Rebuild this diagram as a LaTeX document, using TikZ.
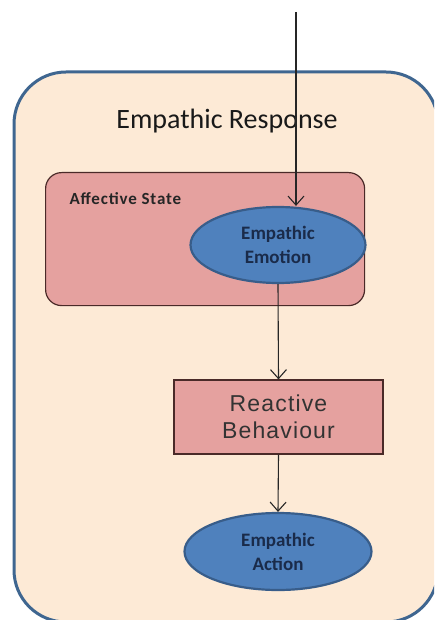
\documentclass[tikz,border=0pt]{standalone}
\usepackage{fontspec}
\setmainfont{Carlito}
\newfontfamily\arialfont[LetterSpace=5]{Liberation Sans}
\newfontfamily\spacedfont[LetterSpace=5]{Carlito}
\usetikzlibrary{arrows.meta,shapes.geometric}
\definecolor{outerfill}{HTML}{FDEAD6}
\definecolor{outerline}{HTML}{3F6690}
\definecolor{pinkfill}{HTML}{E5A19F}
\definecolor{pinkline}{HTML}{4A2A28}
\definecolor{ellfill}{HTML}{4F81BD}
\definecolor{ellline}{HTML}{385D8A}
\definecolor{elltext}{HTML}{1A2B4A}
\tikzset{
  conn/.style={draw=black!85, line width=1.1pt, -{Straight Barb[length=9pt,width=16pt,line width=1.1pt]}},
  blueell/.style={ellipse, draw=ellline, line width=2.2pt, fill=ellfill, inner sep=0pt,
    text=elltext, font=\fontsize{19}{24}\selectfont\bfseries, align=center},
  pinkbox/.style={draw=pinkline, line width=1.2pt, fill=pinkfill},
}
\begin{document}
\begin{tikzpicture}[x=1pt,y=-1pt]
\useasboundingbox (0,0) rectangle (434,620);
\begin{scope}
\clip (0,0) rectangle (434,620);
\draw[draw=outerline, line width=3pt, fill=outerfill, rounded corners=52pt]
  (14,72) rectangle (438,622);
\end{scope}
\node[font=\fontsize{28}{32}\selectfont, text=black!90] (title) at (227,121) {Empathic Response};
\node[pinkbox, rounded corners=16pt, minimum width=319pt, minimum height=133pt, anchor=north west] (aff) at (45,172) {};
\node[anchor=west, font=\spacedfont\fontsize{17}{20}\selectfont\bfseries, text=black!85] (afftext) at (66,199) {Affective State};
\node[blueell, minimum width=175pt, minimum height=76pt] (emo) at (278,245) {Empathic\\Emotion};
\node[pinkbox, minimum width=209pt, minimum height=74pt, font=\arialfont\fontsize{23}{27}\selectfont, text=black!80, align=center] (react) at (278.5,417) {Reactive\\Behaviour};
\node[blueell, minimum width=187pt, minimum height=77pt] (act) at (278,551.5) {Empathic\\Action};
\coordinate (src) at (296,12);
\draw[conn] (src) -- (src |- emo.north);
\draw[conn] (emo.south) -- (react.north);
\draw[conn] (react.south) -- (act.north);
\end{tikzpicture}
\end{document}
